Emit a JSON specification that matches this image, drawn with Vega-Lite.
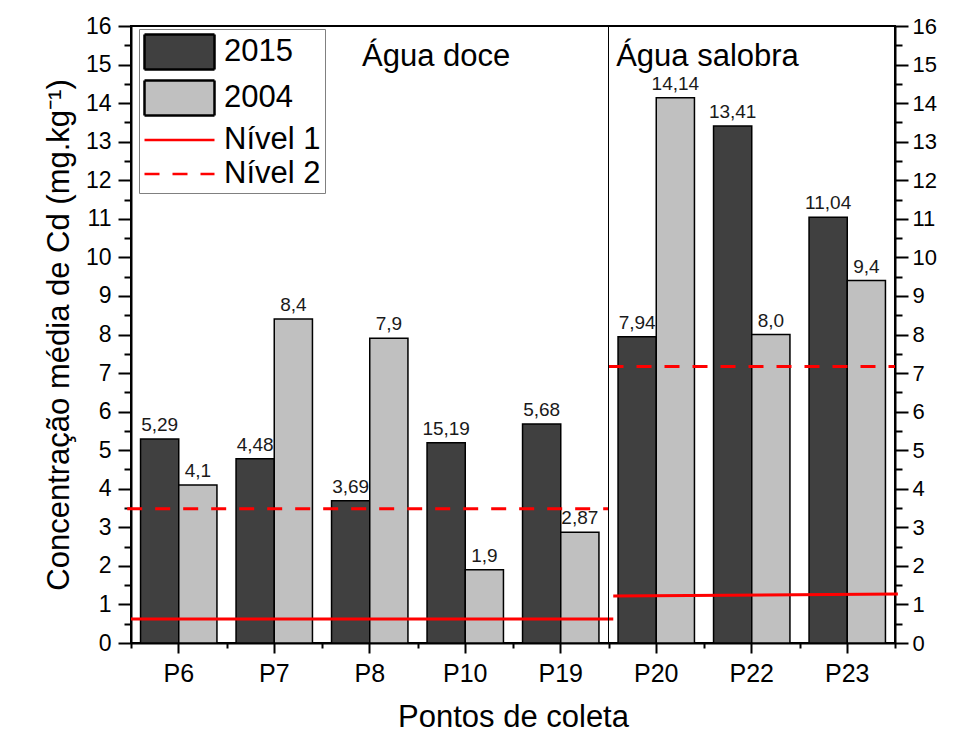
{
  "$schema": "https://vega.github.io/schema/vega-lite/v6.json",
  "autosize": "none",
  "width": 764,
  "height": 617,
  "padding": {"left": 131, "top": 26, "right": 81, "bottom": 95},
  "config": {
    "font": "Liberation Sans",
    "view": {"stroke": "black", "strokeWidth": 2},
    "axis": {"labelColor": "black", "titleColor": "black", "domainColor": "black", "tickColor": "black", "titleFontWeight": "normal", "grid": false}
  },
  "datasets": {
    "barras": [
      {"ponto": "P6", "serie": "2015", "valor": 5.29, "rotulo": "5,29"},
      {"ponto": "P6", "serie": "2004", "valor": 4.1, "rotulo": "4,1"},
      {"ponto": "P7", "serie": "2015", "valor": 4.78, "rotulo": "4,48"},
      {"ponto": "P7", "serie": "2004", "valor": 8.4, "rotulo": "8,4"},
      {"ponto": "P8", "serie": "2015", "valor": 3.69, "rotulo": "3,69"},
      {"ponto": "P8", "serie": "2004", "valor": 7.9, "rotulo": "7,9"},
      {"ponto": "P10", "serie": "2015", "valor": 5.19, "rotulo": "15,19"},
      {"ponto": "P10", "serie": "2004", "valor": 1.9, "rotulo": "1,9"},
      {"ponto": "P19", "serie": "2015", "valor": 5.68, "rotulo": "5,68"},
      {"ponto": "P19", "serie": "2004", "valor": 2.87, "rotulo": "2,87"},
      {"ponto": "P20", "serie": "2015", "valor": 7.94, "rotulo": "7,94"},
      {"ponto": "P20", "serie": "2004", "valor": 14.14, "rotulo": "14,14"},
      {"ponto": "P22", "serie": "2015", "valor": 13.41, "rotulo": "13,41"},
      {"ponto": "P22", "serie": "2004", "valor": 8.0, "rotulo": "8,0"},
      {"ponto": "P23", "serie": "2015", "valor": 11.04, "rotulo": "11,04"},
      {"ponto": "P23", "serie": "2004", "valor": 9.4, "rotulo": "9,4"}
    ],
    "niveis": [
      {"serie": "Nível 1", "ambiente": "doce", "x0": 0, "x1": 5.05, "y0": 0.62, "y1": 0.62},
      {"serie": "Nível 1", "ambiente": "salobra", "x0": 5.05, "x1": 8.03, "y0": 1.22, "y1": 1.27},
      {"serie": "Nível 2", "ambiente": "doce", "x0": -0.04, "x1": 5.0, "y0": 3.48, "y1": 3.48},
      {"serie": "Nível 2", "ambiente": "salobra", "x0": 5.0, "x1": 8.0, "y0": 7.17, "y1": 7.17}
    ],
    "legenda": [
      {"serie": "2015"},
      {"serie": "2004"},
      {"serie": "Nível 1"},
      {"serie": "Nível 2"}
    ],
    "divisoes": [{"pos": 5}],
    "ambientes": [
      {"pos": 2.42, "nivel": 15.2, "texto": "Água doce"},
      {"pos": 5.08, "nivel": 15.2, "texto": "Água salobra"}
    ]
  },
  "resolve": {"scale": {"x": "independent"}, "axis": {"x": "independent", "y": "independent"}},
  "layer": [
    {
      "data": {"name": "barras"},
      "encoding": {
        "x": {
          "field": "ponto", "type": "nominal", "sort": null,
          "scale": {"paddingInner": 0.2, "paddingOuter": 0.1},
          "axis": {
            "orient": "bottom", "labelAngle": 0, "labelFontSize": 25, "labelPadding": 8,
            "tickSize": 10, "tickWidth": 2, "domainWidth": 2,
            "title": "Pontos de coleta", "titleFontSize": 31, "titlePadding": 16
          }
        },
        "xOffset": {"field": "serie", "type": "nominal", "sort": ["2015", "2004"]},
        "y": {
          "field": "valor", "type": "quantitative",
          "scale": {"domain": [0, 16], "nice": false, "zero": true},
          "axis": {
            "orient": "left",
            "values": [0, 1, 2, 3, 4, 5, 6, 7, 8, 9, 10, 11, 12, 13, 14, 15, 16],
            "format": "d",
            "tickSize": 13, "tickWidth": 2, "domainWidth": 2, "labelFontSize": 23, "labelPadding": 7,
            "title": "Concentração média de Cd (mg.kg⁻¹)", "titleFontSize": 31, "titlePadding": 10
          }
        }
      },
      "layer": [
        {
          "mark": {"type": "bar", "stroke": "black", "strokeWidth": 1.5},
          "encoding": {
            "color": {
              "field": "serie", "type": "nominal",
              "scale": {"domain": ["2015", "2004"], "range": ["#404040", "#c0c0c0"]},
              "legend": null
            }
          }
        },
        {
          "mark": {"type": "text", "baseline": "bottom", "dy": -4, "fontSize": 19, "color": "#1a1a1a"},
          "encoding": {"text": {"field": "rotulo"}}
        }
      ]
    },
    {
      "layer": [
        {
          "data": {"name": "niveis"},
          "transform": [{"filter": "datum.serie === 'Nível 1'"}],
          "mark": {"type": "rule", "strokeWidth": 3, "color": "#ff0000"},
          "encoding": {
            "x": {
              "field": "x0", "type": "quantitative",
              "scale": {"domain": [0, 8], "nice": false, "zero": false},
              "axis": {"orient": "bottom", "values": [0, 1, 2, 3, 4, 5, 6, 7, 8], "labels": false, "domain": false, "tickSize": 5, "tickWidth": 2, "title": null, "grid": false}
            },
            "x2": {"field": "x1"},
            "y": {
              "field": "y0", "type": "quantitative",
              "axis": {
                "orient": "right",
                "values": [0, 1, 2, 3, 4, 5, 6, 7, 8, 9, 10, 11, 12, 13, 14, 15, 16],
                "format": "d",
                "tickSize": 13, "tickWidth": 2, "domainWidth": 2, "labelFontSize": 22, "labelPadding": 4, "title": null
              }
            },
            "y2": {"field": "y1"}
          }
        },
        {
          "data": {"name": "niveis"},
          "transform": [{"filter": "datum.serie === 'Nível 2'"}],
          "mark": {"type": "rule", "strokeWidth": 3, "strokeDash": [15, 13], "color": "#ff0000"},
          "encoding": {
            "x": {"field": "x0", "type": "quantitative"},
            "x2": {"field": "x1"},
            "y": {
              "field": "y0", "type": "quantitative",
              "axis": {
                "orient": "right",
                "values": [0.5, 1.5, 2.5, 3.5, 4.5, 5.5, 6.5, 7.5, 8.5, 9.5, 10.5, 11.5, 12.5, 13.5, 14.5, 15.5],
                "labels": false, "domain": false, "tickSize": 7, "tickWidth": 2, "title": null
              }
            },
            "y2": {"field": "y1"}
          }
        },
        {
          "data": {"name": "divisoes"},
          "mark": {"type": "rule", "color": "black", "strokeWidth": 1},
          "encoding": {"x": {"field": "pos", "type": "quantitative"}}
        },
        {
          "data": {"name": "ambientes"},
          "mark": {"type": "text", "align": "left", "baseline": "middle", "fontSize": 31, "color": "black"},
          "encoding": {
            "x": {"field": "pos", "type": "quantitative"},
            "y": {
              "field": "nivel", "type": "quantitative",
              "axis": {
                "orient": "left",
                "values": [0.5, 1.5, 2.5, 3.5, 4.5, 5.5, 6.5, 7.5, 8.5, 9.5, 10.5, 11.5, 12.5, 13.5, 14.5, 15.5],
                "labels": false, "domain": false, "tickSize": 7, "tickWidth": 2, "title": null
              }
            },
            "text": {"field": "texto"}
          }
        }
      ]
    },
    {
      "data": {"name": "legenda"},
      "transform": [{"filter": "datum.serie === 'nenhuma'"}],
      "mark": {"type": "point", "size": 1225, "strokeWidth": 2.5, "opacity": 1, "filled": true},
      "encoding": {
        "fill": {
          "field": "serie", "type": "nominal",
          "scale": {"domain": ["2015", "2004", "Nível 1", "Nível 2"], "range": ["#404040", "#c0c0c0", "transparent", "transparent"]},
          "legend": {
            "title": null, "orient": "none", "legendX": 8, "legendY": 3,
            "strokeColor": "#808080", "fillColor": "white", "padding": 4,
            "labelFontSize": 31, "labelColor": "black", "labelOffset": 43, "labelLimit": 300,
            "symbolSize": 1225, "symbolOpacity": 1, "symbolStrokeWidth": 2.5, "rowPadding": 0
          }
        },
        "stroke": {
          "field": "serie", "type": "nominal",
          "scale": {"domain": ["2015", "2004", "Nível 1", "Nível 2"], "range": ["#000000", "#000000", "#ff0000", "#ff0000"]}
        },
        "strokeDash": {
          "field": "serie", "type": "nominal",
          "scale": {"domain": ["2015", "2004", "Nível 1", "Nível 2"], "range": [[1, 0], [1, 0], [1, 0], [15, 13]]}
        },
        "shape": {
          "field": "serie", "type": "nominal",
          "scale": {"domain": ["2015", "2004", "Nível 1", "Nível 2"], "range": ["M-1,-1H3V1H-1Z", "M-1,-1H3V1H-1Z", "M-1,0H3", "M-1,0H3"]}
        }
      }
    }
  ]
}
